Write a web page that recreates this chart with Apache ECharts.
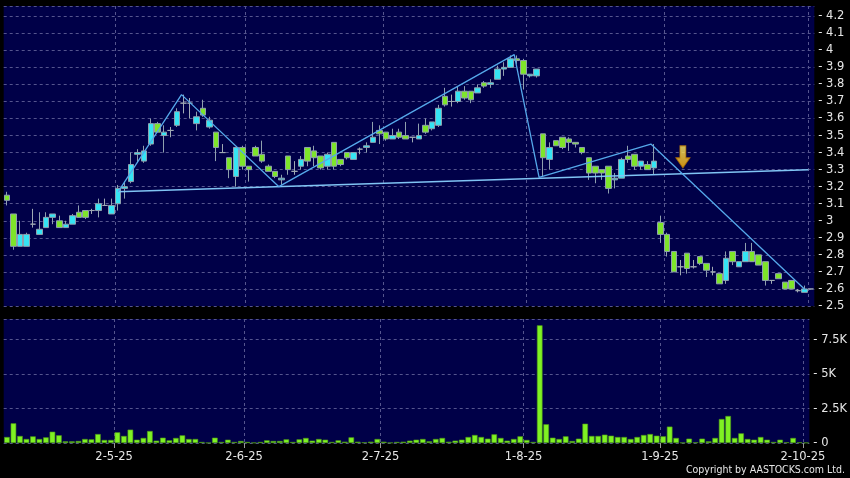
<!DOCTYPE html>
<html><head><meta charset="utf-8">
<script src="https://cdn.jsdelivr.net/npm/echarts@6/dist/echarts.min.js"></script>
<style>html,body{margin:0;padding:0;background:#000;}#c{width:850px;height:478px;}</style>
</head><body><div id="c"></div>
<script>
// Trading days (HK), 3 Apr 2025 - 2 Oct 2025
const dates = [
'2025-04-03','2025-04-07','2025-04-08','2025-04-09','2025-04-10','2025-04-11','2025-04-14','2025-04-15','2025-04-16','2025-04-17',
'2025-04-22','2025-04-23','2025-04-24','2025-04-25','2025-04-28','2025-04-29','2025-04-30',
'2025-05-02','2025-05-06','2025-05-07','2025-05-08','2025-05-09','2025-05-12','2025-05-13','2025-05-14','2025-05-15','2025-05-16',
'2025-05-19','2025-05-20','2025-05-21','2025-05-22','2025-05-23','2025-05-26','2025-05-27','2025-05-28','2025-05-29','2025-05-30',
'2025-06-02','2025-06-03','2025-06-04','2025-06-05','2025-06-06','2025-06-09','2025-06-10','2025-06-11','2025-06-12','2025-06-13',
'2025-06-16','2025-06-17','2025-06-18','2025-06-19','2025-06-20','2025-06-23','2025-06-24','2025-06-25','2025-06-26','2025-06-27','2025-06-30',
'2025-07-02','2025-07-03','2025-07-04','2025-07-07','2025-07-08','2025-07-09','2025-07-10','2025-07-11','2025-07-14','2025-07-15',
'2025-07-16','2025-07-17','2025-07-18','2025-07-21','2025-07-22','2025-07-23','2025-07-24','2025-07-25','2025-07-28','2025-07-29','2025-07-30','2025-07-31',
'2025-08-01','2025-08-04','2025-08-05','2025-08-06','2025-08-07','2025-08-08','2025-08-11','2025-08-12','2025-08-13','2025-08-14','2025-08-15',
'2025-08-18','2025-08-19','2025-08-20','2025-08-21','2025-08-22','2025-08-25','2025-08-26','2025-08-27','2025-08-28','2025-08-29',
'2025-09-01','2025-09-02','2025-09-03','2025-09-04','2025-09-05','2025-09-08','2025-09-09','2025-09-10','2025-09-11','2025-09-12',
'2025-09-15','2025-09-16','2025-09-17','2025-09-18','2025-09-19','2025-09-22','2025-09-23','2025-09-24','2025-09-25','2025-09-26','2025-09-29','2025-09-30',
'2025-10-02'
];
const opens = [
3.15,3.04,2.85,2.85,2.98,2.92,2.96,3.02,3.00,2.96,2.98,3.05,3.06,3.06,3.06,3.09,3.04,3.10,3.19,3.23,
3.39,3.35,3.45,3.57,3.50,3.53,3.56,3.69,3.69,3.57,3.66,3.55,3.52,3.40,3.37,3.26,3.43,3.32,3.43,3.39,
3.32,3.29,3.24,3.38,3.29,3.32,3.43,3.41,3.38,3.32,3.46,3.36,3.40,3.36,3.42,3.43,3.46,3.53,3.52,3.48,
3.52,3.50,3.49,3.48,3.56,3.54,3.56,3.73,3.70,3.70,3.76,3.76,3.75,3.81,3.80,3.83,3.89,3.90,3.95,3.94,
3.85,3.85,3.51,3.36,3.47,3.49,3.48,3.46,3.43,3.37,3.32,3.30,3.32,3.24,3.25,3.38,3.39,3.32,3.33,3.31,
2.99,2.92,2.82,2.73,2.81,2.73,2.79,2.75,2.70,2.69,2.65,2.82,2.73,2.76,2.82,2.80,2.76,2.65,2.69,2.64,
2.65,2.59,2.58,2.60
];
const closes = [
3.12,2.85,2.92,2.92,2.98,2.95,3.02,3.04,2.96,2.98,3.03,3.02,3.02,3.06,3.10,3.09,3.09,3.19,3.20,3.33,
3.40,3.41,3.57,3.52,3.52,3.53,3.64,3.69,3.69,3.61,3.62,3.59,3.43,3.40,3.30,3.43,3.32,3.30,3.38,3.35,
3.29,3.26,3.25,3.30,3.29,3.36,3.35,3.37,3.31,3.39,3.32,3.33,3.37,3.40,3.42,3.44,3.49,3.51,3.48,3.50,
3.49,3.48,3.49,3.50,3.52,3.58,3.66,3.68,3.70,3.76,3.72,3.71,3.78,3.79,3.81,3.89,3.90,3.95,3.94,3.86,
3.86,3.89,3.37,3.43,3.44,3.43,3.46,3.45,3.40,3.28,3.28,3.28,3.19,3.25,3.36,3.36,3.32,3.35,3.30,3.35,
2.92,2.82,2.70,2.73,2.72,2.73,2.75,2.71,2.70,2.63,2.78,2.76,2.76,2.82,2.76,2.74,2.65,2.65,2.66,2.60,
2.60,2.59,2.60,2.60
];
const highs = [
3.17,3.04,3.00,2.93,3.07,3.05,3.05,3.04,3.03,3.00,3.04,3.09,3.06,3.07,3.13,3.13,3.13,3.21,3.23,3.40,
3.42,3.44,3.60,3.58,3.56,3.55,3.66,3.74,3.72,3.64,3.71,3.61,3.52,3.45,3.37,3.43,3.44,3.32,3.44,3.47,
3.33,3.29,3.27,3.38,3.35,3.38,3.43,3.44,3.38,3.40,3.46,3.36,3.40,3.40,3.43,3.46,3.58,3.56,3.52,3.54,
3.54,3.58,3.49,3.57,3.60,3.58,3.68,3.78,3.74,3.79,3.79,3.76,3.80,3.82,3.83,3.91,3.93,3.97,3.97,3.95,
3.86,3.89,3.51,3.46,3.47,3.49,3.49,3.46,3.43,3.37,3.32,3.30,3.32,3.28,3.37,3.44,3.39,3.35,3.35,3.45,
3.03,2.93,2.82,2.77,2.81,2.77,2.79,2.75,2.73,2.69,2.82,2.82,2.76,2.87,2.87,2.80,2.76,2.65,2.69,2.64,
2.65,2.60,2.62,2.60
];
const lows = [
3.09,2.83,2.85,2.85,2.96,2.92,2.96,2.98,2.96,2.96,2.98,3.02,3.01,3.04,3.02,3.09,3.04,3.06,3.13,3.22,
3.34,3.34,3.44,3.52,3.40,3.49,3.55,3.63,3.60,3.53,3.61,3.54,3.35,3.40,3.25,3.20,3.30,3.23,3.38,3.34,
3.29,3.25,3.21,3.27,3.27,3.30,3.32,3.32,3.30,3.30,3.30,3.32,3.36,3.36,3.39,3.40,3.46,3.45,3.47,3.48,
3.48,3.48,3.46,3.48,3.51,3.53,3.55,3.67,3.67,3.69,3.71,3.69,3.75,3.78,3.78,3.83,3.85,3.90,3.92,3.77,
3.84,3.84,3.26,3.30,3.44,3.42,3.41,3.43,3.39,3.24,3.22,3.24,3.16,3.19,3.25,3.34,3.30,3.30,3.30,3.27,
2.87,2.79,2.70,2.68,2.69,2.72,2.74,2.67,2.68,2.63,2.63,2.74,2.73,2.76,2.76,2.74,2.62,2.63,2.66,2.60,
2.60,2.58,2.58,2.60
];
const volumes = [
435,1430,510,290,480,290,410,820,560,120,120,145,290,265,650,220,220,775,510,970,
240,365,870,170,385,195,365,555,290,290,75,20,385,75,240,75,145,75,25,75,
195,145,145,265,75,265,365,170,290,240,75,195,95,410,95,50,95,290,95,25,
75,95,170,240,290,120,290,365,95,170,240,435,580,435,315,630,365,170,290,485,
220,75,8540,1360,385,290,485,145,315,1400,510,510,605,530,435,435,290,435,580,650,
530,485,1190,365,25,315,50,315,120,365,1740,1960,365,700,290,240,435,240,75,240,
50,365,50,25
];
// Pattern lines (x = trading-day index, y = price)
const necklineIdx = [17, 122.6];
const necklinePrice = [3.17, 3.30];
const zigzagIdx = [17, 26.7, 41.6, 77.6, 81.4, 98.5, 122.1];
const zigzagPrice = [3.17, 3.74, 3.20, 3.975, 3.255, 3.45, 2.595];
const arrowIdx = [103.4];
const arrowPrice = [3.375];

const N = dates.length;
const fmt = d => { const p = d.split('-'); return (+p[2]) + '-' + (+p[1]) + '-' + p[0].slice(2); };
const monthStart = new Set();
for (let i = 1; i < N; i++) if (dates[i].slice(5, 7) !== dates[i - 1].slice(5, 7)) monthStart.add(i);
const boundaries = dates.map(fmt).concat(['']);
const isMonth = (i) => monthStart.has(i);
const gridDash = { color: '#55558e', type: [3, 3], width: 1 };
const txt = '#e6e6e6';

const chart = echarts.init(document.getElementById('c'), null, { renderer: 'canvas' });
chart.setOption({
  backgroundColor: '#000',
  animation: false,
  grid: [
    { left: 3.7, top: 6, width: 810.6, height: 300, show: true, backgroundColor: '#000048', borderWidth: 0 },
    { left: 3.7, top: 319, width: 810.6, height: 124, show: true, backgroundColor: '#000048', borderWidth: 0 }
  ],
  xAxis: [
    { type: 'category', gridIndex: 0, position: 'bottom', data: dates, boundaryGap: true, show: false },
    { type: 'category', gridIndex: 0, position: 'bottom', data: boundaries, boundaryGap: false,
      axisLine: { show: false }, axisTick: { show: false }, axisLabel: { show: false },
      splitLine: { show: true, interval: isMonth, lineStyle: gridDash } },
    { type: 'value', gridIndex: 0, position: 'bottom', min: -0.5, max: N - 0.5, show: false },
    { type: 'category', gridIndex: 1, position: 'bottom', data: dates, boundaryGap: true, show: false },
    { type: 'category', gridIndex: 1, position: 'bottom', data: boundaries, boundaryGap: false,
      axisLine: { show: false, onZero: false },
      axisTick: { show: true, interval: isMonth, length: 5, lineStyle: { color: '#9a9a9a' } },
      axisLabel: { show: true, interval: isMonth, color: txt, fontSize: 11.5, fontFamily: 'DejaVu Sans', margin: 8 },
      splitLine: { show: true, interval: isMonth, lineStyle: gridDash } }
  ],
  yAxis: [
    { type: 'value', gridIndex: 0, position: 'right', min: 2.5, max: 4.26, interval: 0.1, scale: true,
      axisLine: { show: false }, axisTick: { show: false },
      splitLine: { show: true, lineStyle: gridDash },
      axisLabel: { showMaxLabel: false, color: txt, fontSize: 11.5, fontFamily: 'DejaVu Sans', margin: 4,
        formatter: v => '- ' + (Math.round(v * 10) / 10) } },
    { type: 'value', gridIndex: 1, position: 'right', min: 0, max: 9000, interval: 2500,
      axisLine: { show: false }, axisTick: { show: false },
      splitLine: { show: true, lineStyle: gridDash },
      axisLabel: { showMaxLabel: false, color: txt, fontSize: 11.5, fontFamily: 'DejaVu Sans', margin: 4,
        formatter: v => '- ' + (v === 0 ? '0' : (v / 1000) + 'K') } }
  ],
  series: [
    { type: 'candlestick', xAxisIndex: 0, yAxisIndex: 0, barWidth: 6,
      data: dates.map((d, i) => [opens[i], closes[i], lows[i], highs[i]]),
      itemStyle: { color: '#35e4f4', color0: '#7ee52a', borderColor: '#8fa0ae', borderColor0: '#8fa0ae',
        borderColorDoji: '#a0aab4', borderWidth: 1 } },
    { type: 'line', xAxisIndex: 2, yAxisIndex: 0, symbol: 'none', z: 5,
      data: necklineIdx.map((x, i) => [x, necklinePrice[i]]),
      lineStyle: { color: '#80c4f4', width: 1.5 } },
    { type: 'line', xAxisIndex: 2, yAxisIndex: 0, symbol: 'none', z: 5,
      data: zigzagIdx.map((x, i) => [x, zigzagPrice[i]]),
      lineStyle: { color: '#55a8ea', width: 1.3 } },
    { type: 'scatter', xAxisIndex: 2, yAxisIndex: 0, z: 6,
      symbol: 'path://M4,0 L10,0 L10,12 L14,12 L7,22 L0,12 L4,12 Z', symbolSize: [14, 22],
      data: arrowIdx.map((x, i) => [x, arrowPrice[i]]),
      itemStyle: { color: new echarts.graphic.LinearGradient(0, 0, 0, 1, [
        { offset: 0, color: '#fff06a' }, { offset: 1, color: '#ffb000' }]),
        borderColor: '#b87400', borderWidth: 1 } },
    { type: 'bar', xAxisIndex: 3, yAxisIndex: 1, barWidth: '86%', data: volumes,
      itemStyle: { color: '#7ff223', borderColor: '#4f9a16', borderWidth: 0.6 } }
  ],
  graphic: [
    { type: 'text', right: 5, top: 465,
      style: { text: 'Copyright by AASTOCKS.com Ltd.', fill: txt, font: '10.5px "DejaVu Sans Condensed"' } }
  ]
});
</script>
</body></html>
